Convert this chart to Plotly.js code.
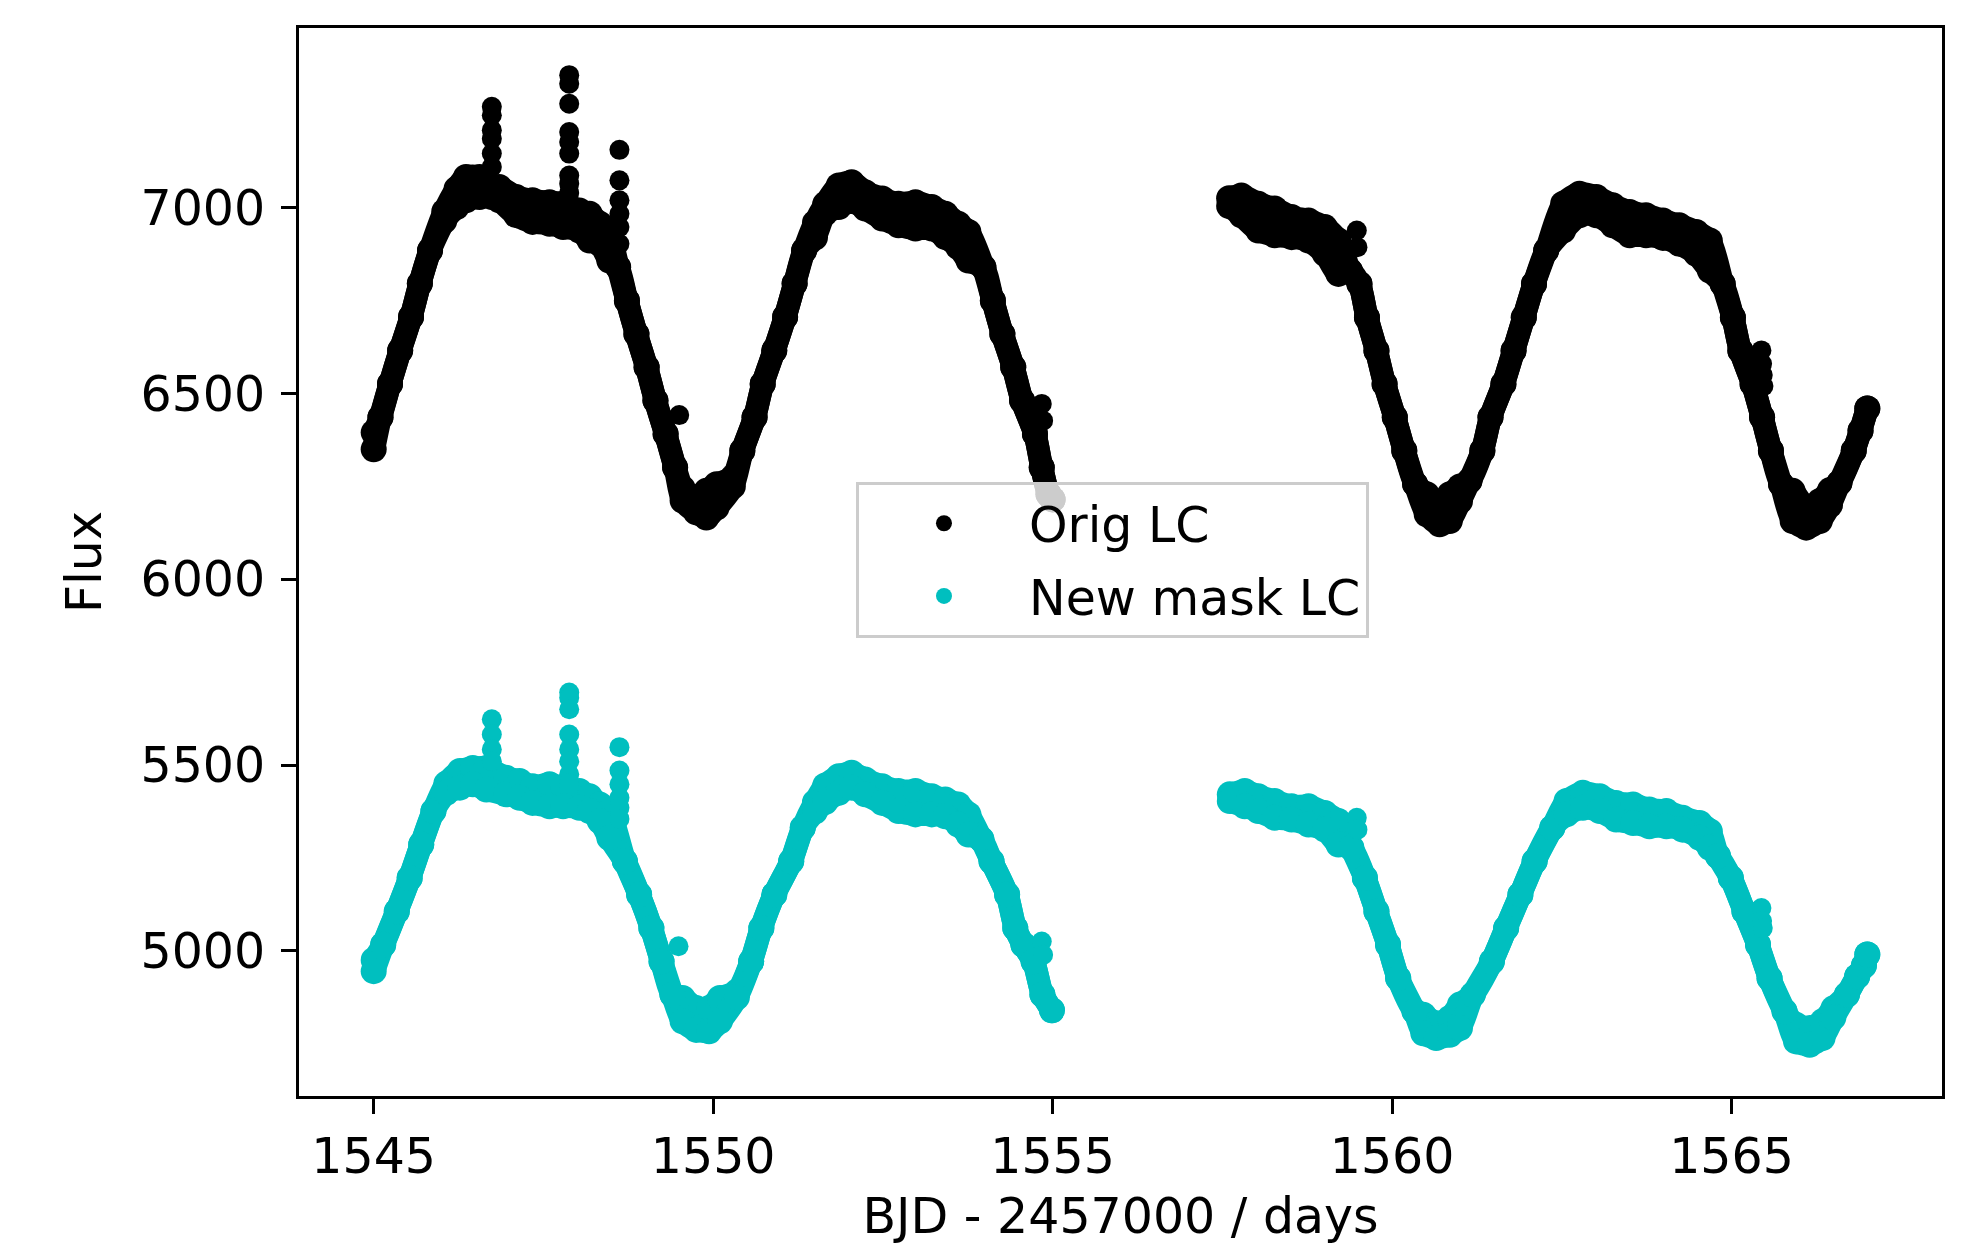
<!DOCTYPE html>
<html>
<head>
<meta charset="utf-8">
<script src="https://cdn.plot.ly/plotly-3.0.1.min.js"></script>
<style>
  html, body { margin: 0; padding: 0; background: #ffffff; }
  #chart { width: 1971px; height: 1245px; }
</style>
</head>
<body>
<div id="chart"></div>
<script>
// ---- Data (BJD - 2457000, flux) ----
// Orig LC, first orbit: time, upper and lower edge of the point cloud
var origT1 = [1545.00, 1545.10, 1545.24, 1545.39, 1545.55, 1545.68, 1545.83, 1546.04, 1546.22, 1546.36,
  1546.56, 1546.74, 1546.85, 1547.10, 1547.34, 1547.59, 1547.79, 1548.03, 1548.18, 1548.33,
  1548.47, 1548.60, 1548.73, 1548.87, 1549.02, 1549.15, 1549.30, 1549.44, 1549.55, 1549.75,
  1549.90, 1550.05, 1550.29, 1550.43, 1550.61, 1550.73, 1550.90, 1551.06, 1551.20, 1551.34,
  1551.50, 1551.65, 1551.85, 1552.04, 1552.24, 1552.49, 1552.73, 1552.98, 1553.22, 1553.42,
  1553.61, 1553.76, 1553.98, 1554.12, 1554.26, 1554.42, 1554.55, 1554.74, 1554.84, 1554.94, 1555.00];
var origHi1 = [6395, 6436, 6526, 6616, 6706, 6796, 6885, 6990, 7051, 7083,
  7083, 7056, 7056, 7029, 7020, 7015, 7011, 6993, 6984, 6957,
  6930, 6840, 6750, 6660, 6571, 6481, 6391, 6301, 6245, 6220,
  6238, 6256, 6275, 6346, 6436, 6526, 6616, 6706, 6796, 6885,
  6960, 7010, 7060, 7069, 7042, 7025, 7011, 7015, 7002, 6984,
  6957, 6935, 6840, 6750, 6660, 6571, 6481, 6391, 6301, 6229, 6215];
var origLo1 = [6350, 6436, 6526, 6616, 6706, 6796, 6885, 6965, 7002, 7020,
  7029, 7029, 7020, 6980, 6962, 6957, 6948, 6939, 6912, 6903,
  6858, 6840, 6750, 6660, 6571, 6481, 6391, 6301, 6212, 6180,
  6166, 6193, 6250, 6346, 6436, 6526, 6616, 6706, 6796, 6885,
  6920, 6985, 7002, 7018, 6998, 6971, 6953, 6944, 6944, 6921,
  6894, 6858, 6840, 6750, 6660, 6571, 6481, 6391, 6301, 6229, 6215];
// Orig LC, second orbit
var origT2 = [1557.60, 1557.78, 1558.03, 1558.27, 1558.52, 1558.77, 1559.01, 1559.21, 1559.38, 1559.52,
  1559.63, 1559.77, 1559.89, 1560.04, 1560.18, 1560.34, 1560.51, 1560.70, 1560.85, 1561.00,
  1561.14, 1561.33, 1561.45, 1561.64, 1561.79, 1561.94, 1562.09, 1562.27, 1562.52, 1562.76,
  1563.01, 1563.25, 1563.50, 1563.74, 1563.99, 1564.23, 1564.48, 1564.68, 1564.87, 1565.02,
  1565.13, 1565.31, 1565.45, 1565.58, 1565.73, 1565.90, 1566.10, 1566.30, 1566.45, 1566.59,
  1566.80, 1566.90, 1567.00];
var origHi2 = [7026, 7033, 7011, 6998, 6975, 6966, 6948, 6912, 6830, 6795,
  6705, 6615, 6526, 6436, 6346, 6256, 6229, 6207, 6229, 6250,
  6265, 6346, 6436, 6526, 6615, 6705, 6795, 6885, 7011, 7038,
  7029, 7007, 6989, 6980, 6966, 6953, 6935, 6912, 6795, 6705,
  6615, 6526, 6436, 6346, 6256, 6238, 6193, 6211, 6240, 6260,
  6346, 6400, 6460];
var origLo2 = [7005, 6980, 6939, 6926, 6921, 6912, 6876, 6822, 6830, 6795,
  6705, 6615, 6526, 6436, 6346, 6256, 6175, 6148, 6157, 6210,
  6265, 6346, 6436, 6526, 6615, 6705, 6795, 6885, 6939, 6980,
  6980, 6953, 6926, 6926, 6919, 6903, 6876, 6831, 6795, 6705,
  6615, 6526, 6436, 6346, 6256, 6157, 6139, 6157, 6200, 6260,
  6346, 6400, 6460];
// Orig LC isolated points (flares and outliers)
var origOutT = [1546.74, 1546.74, 1546.74, 1546.74, 1546.74, 1546.74,
  1547.88, 1547.88, 1547.88, 1547.88, 1547.88, 1547.88, 1547.88, 1547.88, 1547.88,
  1548.62, 1548.62, 1548.62, 1548.62, 1548.62, 1548.62,
  1549.50, 1554.84, 1554.86, 1559.48, 1559.49, 1565.44, 1565.45, 1565.46, 1565.47];
var origOutF = [7272, 7249, 7209, 7186, 7146, 7110,
  7357, 7334, 7280, 7204, 7177, 7146, 7087, 7065, 7040,
  7156, 7074, 7020, 6984, 6948, 6903,
  6442, 6472, 6427, 6939, 6894, 6616, 6580, 6550, 6520];

// New mask LC, first orbit
var maskT1 = [1545.00, 1545.14, 1545.34, 1545.53, 1545.70, 1545.88, 1546.07, 1546.27, 1546.46, 1546.66,
  1546.95, 1547.15, 1547.34, 1547.59, 1547.79, 1548.03, 1548.18, 1548.33, 1548.47, 1548.70,
  1548.91, 1549.09, 1549.24, 1549.40, 1549.55, 1549.75, 1549.94, 1550.10, 1550.35, 1550.56,
  1550.71, 1550.90, 1551.15, 1551.32, 1551.50, 1551.65, 1551.85, 1552.04, 1552.24, 1552.49,
  1552.73, 1552.98, 1553.22, 1553.42, 1553.61, 1553.76, 1553.95, 1554.10, 1554.33, 1554.45,
  1554.57, 1554.72, 1554.85, 1554.99];
var maskHi1 = [4975, 5016, 5106, 5196, 5286, 5376, 5450, 5484, 5492, 5492,
  5466, 5457, 5443, 5448, 5439, 5430, 5416, 5394, 5376, 5241,
  5151, 5061, 4971, 4882, 4873, 4846, 4846, 4873, 4890, 4971,
  5061, 5151, 5241, 5331, 5400, 5445, 5470, 5479, 5461, 5443,
  5430, 5430, 5416, 5407, 5394, 5367, 5300, 5241, 5151, 5061,
  5016, 4971, 4882, 4840];
var maskLo1 = [4945, 5016, 5106, 5196, 5286, 5376, 5425, 5439, 5448, 5434,
  5421, 5412, 5398, 5389, 5389, 5385, 5376, 5349, 5304, 5241,
  5151, 5061, 4971, 4882, 4810, 4787, 4783, 4810, 4875, 4971,
  5061, 5151, 5241, 5331, 5375, 5400, 5425, 5439, 5421, 5398,
  5376, 5367, 5367, 5362, 5340, 5313, 5300, 5241, 5151, 5061,
  5016, 4971, 4882, 4840];
// New mask LC, second orbit
var maskT2 = [1557.61, 1557.83, 1558.03, 1558.27, 1558.52, 1558.77, 1559.01, 1559.21, 1559.40, 1559.60,
  1559.77, 1559.94, 1560.09, 1560.33, 1560.46, 1560.65, 1560.85, 1561.00, 1561.19, 1561.47,
  1561.68, 1561.89, 1562.10, 1562.36, 1562.57, 1562.81, 1563.06, 1563.30, 1563.55, 1563.79,
  1564.04, 1564.28, 1564.53, 1564.68, 1564.80, 1564.99, 1565.19, 1565.39, 1565.56, 1565.78,
  1565.95, 1566.15, 1566.34, 1566.50, 1566.70, 1566.85, 1566.95, 1567.00];
var maskHi2 = [5421, 5430, 5416, 5403, 5389, 5389, 5371, 5349, 5277, 5196,
  5106, 5016, 4926, 4837, 4828, 4805, 4819, 4855, 4882, 4971,
  5061, 5151, 5241, 5331, 5403, 5425, 5416, 5398, 5394, 5380,
  5376, 5358, 5344, 5322, 5255, 5196, 5106, 5016, 4926, 4837,
  4801, 4792, 4810, 4845, 4882, 4931, 4960, 4990];
var maskLo2 = [5403, 5389, 5376, 5358, 5353, 5340, 5326, 5286, 5277, 5196,
  5106, 5016, 4926, 4837, 4778, 4765, 4774, 4792, 4882, 4971,
  5061, 5151, 5241, 5331, 5367, 5385, 5376, 5353, 5344, 5335,
  5335, 5326, 5304, 5277, 5255, 5196, 5106, 5016, 4926, 4837,
  4756, 4747, 4765, 4820, 4882, 4931, 4960, 4990];
// New mask LC isolated points
var maskOutT = [1546.74, 1546.74, 1546.74, 1546.74,
  1547.88, 1547.88, 1547.88, 1547.88, 1547.88, 1547.88, 1547.88, 1547.88,
  1548.62, 1548.62, 1548.62, 1548.62, 1548.62, 1548.62,
  1549.49, 1554.84, 1554.86, 1559.48, 1559.49, 1565.44, 1565.45, 1565.46];
var maskOutF = [5623, 5582, 5542, 5510,
  5695, 5681, 5650, 5582, 5542, 5510, 5475, 5450,
  5548, 5485, 5448, 5412, 5385, 5355,
  5012, 5025, 4989, 5358, 5326, 5115, 5080, 5061];

var xTicks = [1545, 1550, 1555, 1560, 1565];
var yTicks = [5000, 5500, 6000, 6500, 7000];
var seriesNames = ['Orig LC', 'New mask LC'];
var seriesColors = ['#000000', '#00bfbf'];

// ---- Traces ----
var LINE_W = 23, DOT = 26;
function band(t, hi, lo, color) {
  return [
    { x: t, y: hi, type: 'scatter', mode: 'lines+markers', showlegend: false, hoverinfo: 'skip',
      line: { color: color, width: LINE_W, shape: 'spline', smoothing: 0.7 }, marker: { color: color, size: DOT } },
    { x: t, y: lo, type: 'scatter', mode: 'lines+markers', showlegend: false, hoverinfo: 'skip',
      fill: 'tonexty', fillcolor: color,
      line: { color: color, width: LINE_W, shape: 'spline', smoothing: 0.7 }, marker: { color: color, size: DOT } }
  ];
}
var data = [].concat(
  band(origT1, origHi1, origLo1, seriesColors[0]),
  band(origT2, origHi2, origLo2, seriesColors[0]),
  [{ x: origOutT, y: origOutF, type: 'scatter', mode: 'markers', name: seriesNames[0],
     legendgroup: 'a', marker: { color: seriesColors[0], size: 20 } }],
  band(maskT1, maskHi1, maskLo1, seriesColors[1]),
  band(maskT2, maskHi2, maskLo2, seriesColors[1]),
  [{ x: maskOutT, y: maskOutF, type: 'scatter', mode: 'markers', name: seriesNames[1],
     legendgroup: 'b', marker: { color: seriesColors[1], size: 20 } }]
);

var FONT = 'DejaVu Sans, Liberation Sans, sans-serif';
var FS = 49;
var layout = {
  width: 1971, height: 1245,
  paper_bgcolor: '#ffffff', plot_bgcolor: '#ffffff',
  margin: { l: 299, r: 29, t: 28, b: 149 },
  font: { family: FONT, size: FS, color: '#000000' },
  showlegend: true,
  legend: {
    x: 0.339, y: 0.575, xanchor: 'left', yanchor: 'top',
    bgcolor: 'rgba(255,255,255,0.8)', bordercolor: '#cccccc', borderwidth: 3,
    font: { family: FONT, size: FS, color: '#000000' },
    traceorder: 'grouped', tracegroupgap: 6, itemwidth: 160
  },
  xaxis: {
    range: [1543.9, 1568.1], tickvals: xTicks, ticktext: xTicks.map(String),
    ticks: 'outside', ticklen: 15, tickwidth: 3, tickcolor: '#000000',
    showline: true, linewidth: 3, linecolor: '#000000', mirror: true,
    showgrid: false, zeroline: false,
    tickfont: { family: FONT, size: FS, color: '#000000' },
    title: { text: 'BJD - 2457000 / days', font: { family: FONT, size: FS, color: '#000000' }, standoff: 20 }
  },
  yaxis: {
    range: [4609, 7484], tickvals: yTicks, ticktext: yTicks.map(String),
    ticks: 'outside', ticklen: 15, tickwidth: 3, tickcolor: '#000000',
    ticklabelstandoff: 6,
    showline: true, linewidth: 3, linecolor: '#000000', mirror: true,
    showgrid: false, zeroline: false,
    tickfont: { family: FONT, size: FS, color: '#000000' },
    title: { text: 'Flux', font: { family: FONT, size: FS, color: '#000000' }, standoff: 24 }
  }
};

Plotly.newPlot('chart', data, layout, { staticPlot: true, displayModeBar: false });
</script>
</body>
</html>
